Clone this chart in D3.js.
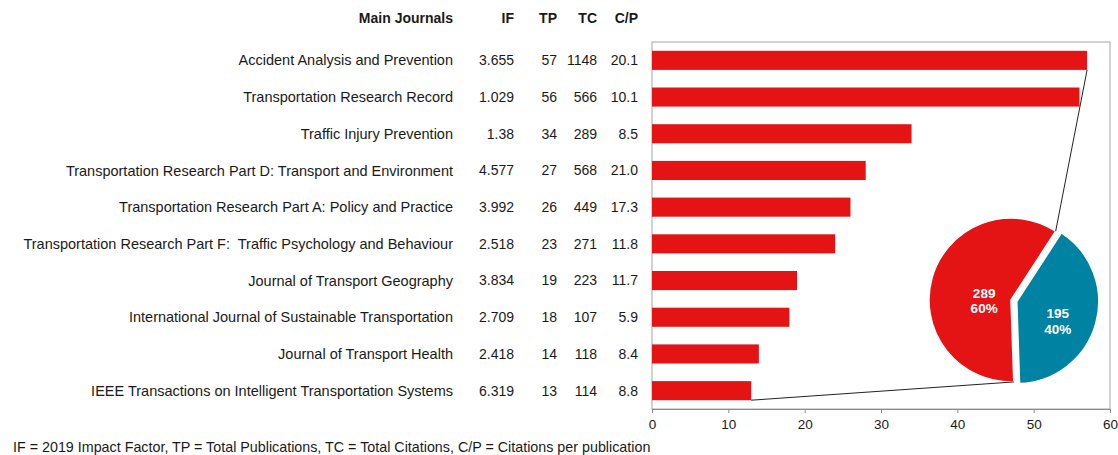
<!DOCTYPE html>
<html>
<head>
<meta charset="utf-8">
<script src="https://cdn.jsdelivr.net/npm/d3@7"></script>
<style>
  body { margin: 0; background: #fff; }
  svg text { font-family: "Liberation Sans", Arial, sans-serif; font-size: 14px; fill: #1a1a1a; white-space: pre; }
</style>
</head>
<body>
<svg id="chart" width="1118" height="455"></svg>
<script>
// table data
var journals = ["Accident Analysis and Prevention", "Transportation Research Record", "Traffic Injury Prevention",
  "Transportation Research Part D: Transport and Environment", "Transportation Research Part A: Policy and Practice",
  "Transportation Research Part F:  Traffic Psychology and Behaviour", "Journal of Transport Geography",
  "International Journal of Sustainable Transportation", "Journal of Transport Health",
  "IEEE Transactions on Intelligent Transportation Systems"];
var impactFactor = ["3.655", "1.029", "1.38", "4.577", "3.992", "2.518", "3.834", "2.709", "2.418", "6.319"];
var totalPubs = ["57", "56", "34", "27", "26", "23", "19", "18", "14", "13"];
var totalCites = ["1148", "566", "289", "568", "449", "271", "223", "107", "118", "114"];
var citesPerPub = ["20.1", "10.1", "8.5", "21.0", "17.3", "11.8", "11.7", "5.9", "8.4", "8.8"];

// bar lengths as drawn
var barValues = [57, 56, 34, 28, 26, 24, 19, 18, 14, 13];
var xTicks = [0, 10, 20, 30, 40, 50, 60];

// pie (bar-of-pie)
var pieValues = [195, 289];
var pieLabels = ["40%", "60%"];

var svg = d3.select("#chart");

var x = d3.scaleLinear().domain([0, 60]).range([652, 1110]);
var y = d3.scaleBand().domain(journals).range([42, 409]).paddingInner(0.48).paddingOuter(0.24);

// plot box
svg.append("rect")
  .attr("x", 652).attr("y", 42)
  .attr("width", 458).attr("height", 367)
  .attr("fill", "none").attr("stroke", "#a6a6a6");

// bars
svg.selectAll(".bar")
  .data(journals)
  .enter().append("rect")
    .attr("class", "bar")
    .attr("x", x(0))
    .attr("y", function(d) { return y(d); })
    .attr("width", function(d, i) { return x(barValues[i]) - x(0); })
    .attr("height", y.bandwidth())
    .attr("fill", "#e41414");

// x axis
var xAxis = svg.append("g")
  .attr("transform", "translate(0,409)")
  .call(d3.axisBottom(x).tickValues(xTicks).tickSize(4).tickSizeOuter(0));
xAxis.select(".domain").attr("stroke", "#8c8c8c");
xAxis.selectAll(".tick line").attr("stroke", "#8c8c8c");
xAxis.selectAll("text").style("font-size", "13.5px").attr("dy", "0.95em").attr("fill", "#1a1a1a");

// table columns
var cols = [
  { title: "Main Journals", x: 453, vals: journals, size: "14.5px" },
  { title: "IF", x: 514, vals: impactFactor, size: "14px" },
  { title: "TP", x: 557, vals: totalPubs, size: "14px" },
  { title: "TC", x: 597, vals: totalCites, size: "14px" },
  { title: "C/P", x: 638, vals: citesPerPub, size: "14px" }
];

cols.forEach(function(c) {
  svg.append("text")
    .attr("x", c.x).attr("y", 23)
    .attr("text-anchor", "end")
    .style("font-weight", "bold")
    .text(c.title);
  svg.selectAll(null)
    .data(c.vals)
    .enter().append("text")
      .attr("x", c.x)
      .attr("y", function(d, i) { return y(journals[i]) + y.bandwidth() / 2; })
      .attr("dy", "0.35em")
      .attr("text-anchor", "end")
      .style("font-size", c.size)
      .text(function(d) { return d; });
});

// pie
var cx = 1011, cy = 300, r = 82;
var a0 = 33 * Math.PI / 180;
var pie = d3.pie().sort(null).startAngle(a0).endAngle(a0 + 2 * Math.PI);
var arc = d3.arc().innerRadius(0).outerRadius(r);
var slices = pie(pieValues);
var colors = ["#0082a2", "#e41414"];
var explode = [6, 0];
var labelR = [0.52, 0.34];

var pg = svg.append("g").attr("transform", "translate(" + cx + "," + cy + ")");
var sg = pg.selectAll(".slice")
  .data(slices)
  .enter().append("g")
    .attr("transform", function(d, i) {
      var m = (d.startAngle + d.endAngle) / 2;
      return "translate(" + (Math.sin(m) * explode[i]) + "," + (-Math.cos(m) * explode[i]) + ")";
    });
sg.append("path")
  .attr("d", arc)
  .attr("fill", function(d, i) { return colors[i]; })
  .attr("stroke", "#fff").attr("stroke-width", 1.5);
var lt = sg.append("text")
  .attr("transform", function(d, i) {
    var c = d3.arc().innerRadius(r * labelR[i]).outerRadius(r * labelR[i]).centroid(d);
    return "translate(" + c[0] + "," + c[1] + ")";
  })
  .attr("text-anchor", "middle")
  .style("font-weight", "bold")
  .style("font-size", "13.5px")
  .style("fill", "#fff");
lt.append("tspan").attr("x", 0).attr("dy", "0.4em").text(function(d) { return d.value; });
lt.append("tspan").attr("x", 0).attr("dy", "1.15em").text(function(d, i) { return pieLabels[i]; });

// connector lines from bars to the pie
var red = slices[1];
var topPt = [cx + Math.sin(red.endAngle) * r, cy - Math.cos(red.endAngle) * r];
var botPt = [cx + Math.sin(red.startAngle) * r, cy - Math.cos(red.startAngle) * r];
var first = journals[0], last = journals[journals.length - 1];
svg.append("line")
  .attr("x1", x(barValues[0])).attr("y1", y(first) + y.bandwidth())
  .attr("x2", topPt[0]).attr("y2", topPt[1])
  .attr("stroke", "#222").attr("stroke-width", 1);
svg.append("line")
  .attr("x1", x(barValues[barValues.length - 1])).attr("y1", y(last) + y.bandwidth())
  .attr("x2", botPt[0]).attr("y2", botPt[1])
  .attr("stroke", "#222").attr("stroke-width", 1);

// footnote
svg.append("text")
  .attr("x", 13).attr("y", 452)
  .style("font-size", "14.3px")
  .text("IF = 2019 Impact Factor, TP = Total Publications, TC = Total Citations, C/P = Citations per publication");
</script>
</body>
</html>
